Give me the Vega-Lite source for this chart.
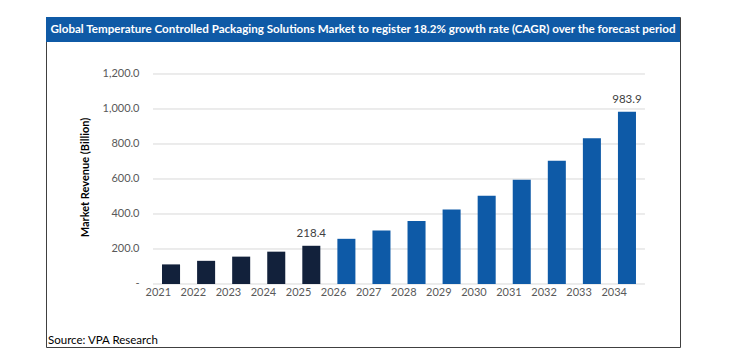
{
  "$schema": "https://vega.github.io/schema/vega-lite/v6.json",
  "width": 634,
  "height": 330,
  "autosize": {"type": "none"},
  "padding": {"left": 46, "top": 17, "right": 54, "bottom": 9},
  "background": "white",
  "config": {
    "view": {"stroke": "#404040", "strokeWidth": 1},
    "font": "Lato"
  },
  "title": {
    "text": "Source: VPA Research",
    "orient": "bottom",
    "anchor": "start",
    "frame": "group",
    "offset": -12,
    "dx": 2,
    "fontSize": 11.5,
    "fontWeight": "normal",
    "color": "#000000",
    "font": "Lato"
  },
  "datasets": {
    "revenue": [
      {"year": "2021", "value": 112.0, "period": "Historical"},
      {"year": "2022", "value": 132.4, "period": "Historical"},
      {"year": "2023", "value": 156.4, "period": "Historical"},
      {"year": "2024", "value": 184.8, "period": "Historical"},
      {"year": "2025", "value": 218.4, "period": "Historical"},
      {"year": "2026", "value": 258.2, "period": "Forecast"},
      {"year": "2027", "value": 305.2, "period": "Forecast"},
      {"year": "2028", "value": 360.7, "period": "Forecast"},
      {"year": "2029", "value": 426.4, "period": "Forecast"},
      {"year": "2030", "value": 504.0, "period": "Forecast"},
      {"year": "2031", "value": 595.7, "period": "Forecast"},
      {"year": "2032", "value": 704.1, "period": "Forecast"},
      {"year": "2033", "value": 832.3, "period": "Forecast"},
      {"year": "2034", "value": 983.9, "period": "Forecast"}
    ],
    "grid": [
      {"v": 0}, {"v": 200}, {"v": 400}, {"v": 600}, {"v": 800}, {"v": 1000}, {"v": 1200}
    ],
    "heading": [
      {"title": "Global Temperature Controlled Packaging Solutions Market to register 18.2% growth rate (CAGR) over the forecast period"}
    ]
  },
  "layer": [
    {
      "data": {"name": "heading"},
      "mark": {"type": "rect", "color": "#0F5AA6"},
      "encoding": {
        "y": {"datum": 1383, "type": "quantitative"},
        "y2": {"datum": 1525.7}
      }
    },
    {
      "data": {"name": "heading"},
      "mark": {"type": "text", "color": "white", "fontWeight": "bold", "fontSize": 11.6, "font": "Lato", "baseline": "middle", "align": "center"},
      "encoding": {
        "y": {"datum": 1454, "type": "quantitative"},
        "text": {"field": "title", "type": "nominal"}
      }
    },
    {
      "data": {"name": "grid"},
      "mark": {"type": "rule", "color": "#d9d9d9", "strokeWidth": 1},
      "encoding": {
        "y": {"field": "v", "type": "quantitative"},
        "x": {"datum": "2021", "type": "ordinal", "bandPosition": -0.5},
        "x2": {"datum": "2034", "bandPosition": 1.5}
      }
    },
    {
      "data": {"name": "revenue"},
      "mark": {"type": "bar"},
      "encoding": {
        "x": {
          "field": "year",
          "type": "ordinal",
          "scale": {"range": [107.5, 598.5], "paddingInner": 0.486, "paddingOuter": 0.243},
          "axis": {
            "orient": "bottom",
            "offset": -63,
            "title": null,
            "domain": false,
            "ticks": false,
            "tickSize": 0,
            "grid": false,
            "labelAngle": 0,
            "labelPadding": 8,
            "labelColor": "#595959",
            "labelFontSize": 11,
            "labelFont": "Lato"
          }
        },
        "y": {
          "field": "value",
          "type": "quantitative",
          "scale": {"domain": [-360, 1525.7], "nice": false, "zero": false},
          "axis": {
            "orient": "left",
            "offset": -95,
            "values": [0, 200, 400, 600, 800, 1000, 1200],
            "labelExpr": "datum.value == 0 ? '-\u00a0\u00a0\u00a0' : format(datum.value, ',.1f')",
            "domain": false,
            "ticks": false,
            "tickSize": 0,
            "grid": false,
            "labelPadding": 2,
            "labelColor": "#595959",
            "labelFontSize": 11,
            "labelFont": "Lato",
            "title": "Market Revenue (Billion)",
            "titleFont": "Lato",
            "titleFontSize": 11,
            "titleFontWeight": "bold",
            "titleColor": "#000000",
            "titleAngle": 270,
            "titleAlign": "center",
            "titleBaseline": "middle",
            "titleX": -56,
            "titleY": 160
          }
        },
        "color": {
          "field": "period",
          "type": "nominal",
          "scale": {"domain": ["Historical", "Forecast"], "range": ["#12213B", "#0E5AA7"]},
          "legend": null
        }
      }
    },
    {
      "data": {"name": "revenue"},
      "transform": [{"filter": "datum.year == '2025' || datum.year == '2034'"}],
      "mark": {"type": "text", "dy": -12, "fontSize": 11.5, "font": "Lato", "color": "#404040", "baseline": "middle"},
      "encoding": {
        "x": {"field": "year", "type": "ordinal"},
        "y": {"field": "value", "type": "quantitative"},
        "text": {"field": "value", "type": "quantitative", "format": ".1f"}
      }
    }
  ]
}
